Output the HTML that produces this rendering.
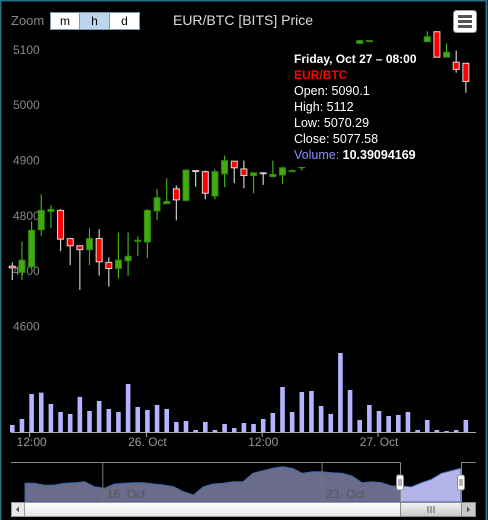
<!DOCTYPE html>
<html><head><meta charset="utf-8"><style>
html,body{margin:0;padding:0;background:#000;}
#wrap{position:relative;width:488px;height:520px;overflow:hidden;background:#000;font-family:"Liberation Sans",sans-serif;}
svg{position:absolute;left:0;top:0;}
</style></head><body>
<div id="wrap">
<svg id="c" width="488" height="520" xmlns="http://www.w3.org/2000/svg">
<rect x="0" y="0" width="488" height="520" fill="#000"/>
<rect x="0.5" y="0.5" width="486" height="530" fill="none" stroke="#2a6f86" stroke-width="2"/>
<text x="11" y="25" font-size="13" fill="#888">Zoom</text>
<g><rect x="50.5" y="12.5" width="29" height="17" fill="#fff" stroke="#7a9ab0"/><text x="65" y="25" font-size="12" fill="#000" text-anchor="middle">m</text></g>
<g><rect x="79.5" y="12.5" width="30" height="17" fill="#bcd6f0" stroke="#7a9ab0"/><text x="94.5" y="25" font-size="12" fill="#000" text-anchor="middle">h</text></g>
<g><rect x="109.5" y="12.5" width="30" height="17" fill="#fff" stroke="#7a9ab0"/><text x="124.5" y="25" font-size="12" fill="#000" text-anchor="middle">d</text></g>
<text x="243" y="25" font-size="14" fill="#ddd" text-anchor="middle">EUR/BTC [BITS] Price</text>
<g><rect x="453.5" y="10.5" width="23" height="22" rx="3" fill="#fff" stroke="#999"/><rect x="458" y="15" width="14" height="3" fill="#555"/><rect x="458" y="20" width="14" height="3" fill="#555"/><rect x="458" y="25" width="14" height="3" fill="#555"/></g>
<g id="yaxis"></g>
<g id="candles"></g>
<g id="tip">
<rect x="288" y="44" width="140" height="123" fill="#000"/>
<text x="294" y="63" font-size="12" font-weight="bold" fill="#fff">Friday, Oct 27 – 08:00</text>
<text x="294" y="79" font-size="12" font-weight="bold" fill="#ff0000">EUR/BTC</text>
<text x="294" y="95" font-size="12.5" fill="#fff">Open: 5090.1</text>
<text x="294" y="111" font-size="12.5" fill="#fff">High: 5112</text>
<text x="294" y="127" font-size="12.5" fill="#fff">Low: 5070.29</text>
<text x="294" y="143" font-size="12.5" fill="#fff">Close: 5077.58</text>
<text x="294" y="159" font-size="12.5" fill="#8c8cff">Volume: <tspan font-weight="bold" fill="#fff">10.39094169</tspan></text>
</g>
<g id="vol"></g>
<g id="xaxis"></g>
<g id="nav"></g>
</svg>
</div>
<script>
const NS="http://www.w3.org/2000/svg";
// ---- data ----
const opens =[4707,4696,4706,4773,4806,4808,4757,4744,4737,4757,4714,4703,4717,4752,4751,4807,4820,4847,4826,4880,4878,4834,4874,4897,4883,4871,4876,4869,4872,4878,4885,4900,4930,4970,5020,5070,5110,5114,5100,5090,5070,5085,5095,5113,5131,5085,5076,5074];
const highs =[4714,4752,4788,4837,4817,4810,4757,4745,4776,4774,4723,4768,4768,4761,4810,4847,4866,4853,4882,4881,4880,4882,4907,4897,4898,4876,4877,4898,4887,4882,4902,4935,4975,5025,5075,5100,5116,5115,5102,5095,5088,5098,5102,5132,5132,5110,5097,5074];
const lows  =[4682,4682,4704,4762,4776,4734,4709,4664,4709,4690,4670,4685,4690,4725,4722,4790,4820,4790,4824,4851,4828,4828,4850,4857,4848,4839,4854,4869,4856,4878,4880,4895,4925,4965,5015,5065,5110,5114,5085,5065,5065,5080,5090,5113,5085,5085,5057,5021];
const closes=[4704,4718,4772,4808,4810,4756,4744,4737,4757,4715,4703,4718,4725,4754,4808,4831,4824,4827,4881,4880,4839,4878,4898,4885,4871,4876,4876,4873,4885,4880,4900,4930,4970,5020,5070,5095,5115,5115,5090,5070,5085,5095,5100,5122,5085,5094,5063,5041];
const volumes=[22,40,115,119,85,61,55,106,64,94,70,61,145,76,67,82,70,31,34,7,31,7,25,13,28,25,40,58,136,61,121,124,79,55,238,127,37,82,64,49,52,61,7,37,7,4,7,37];
const yTicks=[4600,4700,4800,4900,5000,5100];
const xTickIdx=[1.8,13.9,25.9,37.9];
const xTickLabels=["12:00","26. Oct","12:00","27. Oct"];
const navValues=[50,50,44,45,50,52,55,40,35,48,50,52,52,48,45,40,25,15,40,48,50,55,55,80,88,95,100,95,80,85,85,82,80,72,52,55,52,42,42,40,52,62,80,88,95];
const navTickLabels=["16. Oct","23. Oct"];
const navTickPos=[0.18,0.61];
// ---- axes ----
const xOf=i=>12.3+i*9.65;
const yOf=p=>159.5-(p-4900)*0.553;
const vY=v=>432.3-v/3;
const navX=i=>25+i*(436/(navValues.length-1));
const navY=v=>500-v/3;
const NB=502;
function mk(tag,attrs,parent){const e=document.createElementNS(NS,tag);for(const k in attrs)e.setAttribute(k,attrs[k]);parent.appendChild(e);return e;}
const gy=document.getElementById('yaxis');
yTicks.forEach(t=>{const e=mk('text',{x:13,y:yOf(t)+5,'font-size':12,fill:'#888'},gy);e.textContent=t;

});
const gc=document.getElementById('candles');
opens.forEach((o,i)=>{const c=closes[i],x=xOf(i);const up=c>o,doji=Math.abs(c-o)<0.5;
const g=mk('g',{},gc);


const wc=doji?'#ccc':(up?'#3fae15':'#ccc');
mk('line',{x1:x,x2:x,y1:yOf(highs[i]),y2:yOf(lows[i]),stroke:wc,'stroke-width':1.2},g);
const top=yOf(Math.max(o,c)),bot=yOf(Math.min(o,c));
mk('rect',{x:x-3,y:top,width:6,height:Math.max(1,bot-top),fill:doji?'#ccc':(up?'#44aa11':'#ff0000'),stroke:doji?'#ccc':(up?'#2d8a0b':'#ddd'),'stroke-width':1},g);});
const gv=document.getElementById('vol');
volumes.forEach((v,i)=>{const r=mk('rect',{x:xOf(i)-2.3,y:vY(v),width:4.6,height:432.3-vY(v),fill:'#b3b3ff'},gv);

});
const gx=document.getElementById('xaxis');
mk('line',{x1:11,x2:476,y1:432.5,y2:432.5,stroke:'#aaa','stroke-width':1},gx);
xTickIdx.forEach((t,k)=>{const x=xOf(t);mk('line',{x1:x,x2:x,y1:432,y2:437,stroke:'#aaa'},gx);
const e=mk('text',{x:x+(k==0?2:1),y:446,'font-size':12,fill:'#999','text-anchor':'middle'},gx);e.textContent=xTickLabels[k];

});
// navigator
const gn=document.getElementById('nav');


let d='M'+navX(0)+','+NB;navValues.forEach((v,i)=>{d+=' L'+navX(i).toFixed(1)+','+navY(v).toFixed(1);});d+=' L'+navX(navValues.length-1)+','+NB+' Z';
const defs=mk('defs',{},gn);
const cp1=mk('clipPath',{id:'cl'},defs);mk('rect',{x:0,y:440,width:400,height:62},cp1);
const cp2=mk('clipPath',{id:'cr'},defs);mk('rect',{x:400,y:440,width:62,height:62},cp2);
mk('path',{d:d,fill:'#6b6b8c',stroke:'#3a6aa8','stroke-width':1,'clip-path':'url(#cl)'},gn);
mk('path',{d:d,fill:'#b4b4ea',stroke:'#3a6aa8','stroke-width':1,'clip-path':'url(#cr)'},gn);
navTickPos.forEach((p,k)=>{const x=11+p*510;mk('line',{x1:x,x2:x,y1:462,y2:NB,stroke:'#777'},gn);
const e=mk('text',{x:x+4,y:498,'font-size':12,fill:'#555'},gn);e.textContent=navTickLabels[k];

});
mk('path',{d:'M11,462.5 H400.5 V'+NB+' M461.5,'+NB+' V462.5 H476',fill:'none',stroke:'#888'},gn);
[400,461].forEach(x=>{const h=mk('g',{},gn);


mk('rect',{x:x-3.5,y:475,width:7,height:15,rx:2,fill:'#fff',stroke:'#888'},h);
mk('line',{x1:x-1,x2:x-1,y1:479,y2:486,stroke:'#666'},h);mk('line',{x1:x+1,x2:x+1,y1:479,y2:486,stroke:'#666'},h);});
// scrollbar
const sb=mk('g',{},gn);


const lg=mk('linearGradient',{id:'sg',x1:0,y1:0,x2:0,y2:1},defs);mk('stop',{offset:0,'stop-color':'#fff'},lg);mk('stop',{offset:1,'stop-color':'#e4e4e4'},lg);
const lg2=mk('linearGradient',{id:'tg',x1:0,y1:0,x2:0,y2:1},defs);mk('stop',{offset:0,'stop-color':'#f2f2f2'},lg2);mk('stop',{offset:1,'stop-color':'#c8c8c8'},lg2);
const SY=502.5;
mk('rect',{x:11.5,y:SY,width:464,height:14,fill:'url(#sg)',stroke:'#999'},sb);
mk('rect',{x:11.5,y:SY,width:13,height:14,fill:'#e8e8e8',stroke:'#999'},sb);
mk('path',{d:'M19,506.5 L16,509.5 L19,512.5 Z',fill:'#555'},sb);
mk('rect',{x:400.5,y:SY,width:61,height:14,fill:'url(#tg)',stroke:'#888'},sb);
[428,431,434].forEach(x=>mk('line',{x1:x,x2:x,y1:506,y2:513,stroke:'#555'},sb));
mk('rect',{x:461.5,y:SY,width:14,height:14,fill:'#c8c8c8',stroke:'#888'},sb);
mk('path',{d:'M467,506.5 L470,509.5 L467,512.5 Z',fill:'#555'},sb);
const svg=document.getElementById('c');svg.insertBefore(document.getElementById('tip'),document.getElementById('vol'));
</script>
</body></html>
